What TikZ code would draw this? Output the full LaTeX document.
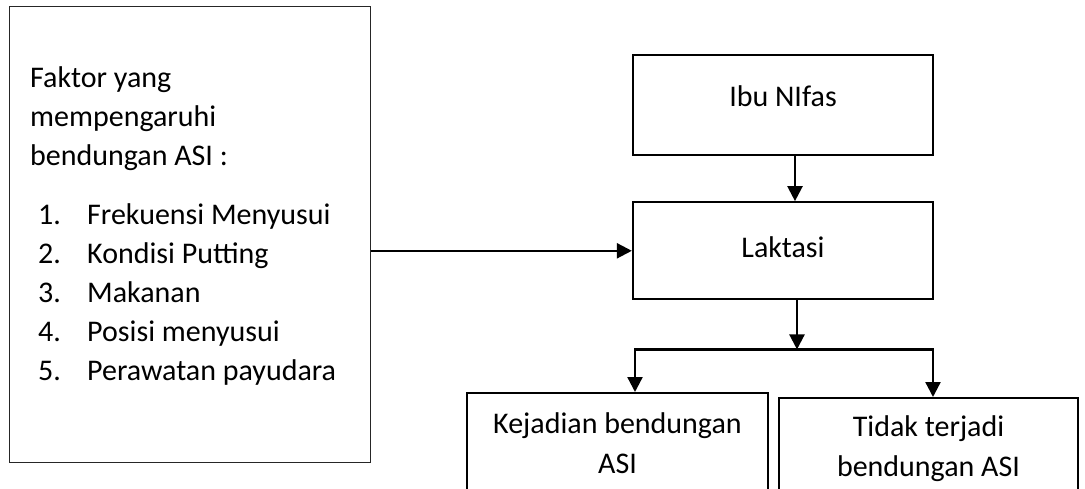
\documentclass[tikz,border=0pt]{standalone}
\usepackage{fontspec}
\setmainfont{Carlito}
\usepackage{tikz}
\usetikzlibrary{arrows.meta,positioning}
\tikzset{
  flowbox/.style={draw=black, line width=2.3pt, align=center, inner sep=0pt,
                  font=\fontsize{30}{40}\selectfont},
  factorbox/.style={draw=black!85, line width=1.2pt, inner sep=0pt},
  factortxt/.style={align=left, inner sep=0pt, font=\fontsize{30}{39}\selectfont},
  flowarr/.style={-{Triangle[length=15pt, width=15pt]}, line width=2.3pt, draw=black},
}

\begin{document}
\begin{tikzpicture}[x=1pt, y=-1pt]
  \useasboundingbox (0,0) rectangle (1085,488);
  % left box with the factors
  \node[factorbox, anchor=north west, minimum width=361pt, minimum height=456pt] (faktor) at (9,6) {};
  \node[factortxt, anchor=north west] (faktorlist) at (30,66) {Faktor yang\\
    mempengaruhi\\
    bendungan ASI :\\[20pt]
    \hspace*{8pt}\makebox[49pt][l]{1.}Frekuensi Menyusui\\
    \hspace*{8pt}\makebox[49pt][l]{2.}Kondisi Putting\\
    \hspace*{8pt}\makebox[49pt][l]{3.}Makanan\\
    \hspace*{8pt}\makebox[49pt][l]{4.}Posisi menyusui\\
    \hspace*{8pt}\makebox[49pt][l]{5.}Perawatan payudara};
  % flow on the right
  \node[flowbox, minimum width=300pt, minimum height=100pt, text depth=18pt] (ibu) at (783,105) {Ibu NIfas};
  \node[flowbox, below=45pt of ibu, minimum width=300pt, minimum height=97pt, text depth=8pt] (lak) {Laktasi};
  \node[flowbox, anchor=north, minimum width=301pt, minimum height=100pt] (kej) at (617.5,392) {Kejadian bendungan\\ASI};
  \node[flowbox, anchor=north, minimum width=299pt, minimum height=101pt] (tidak) at (928.5,397) {Tidak terjadi\\bendungan ASI};
  \coordinate (split) at ([xshift=14pt, yshift=-49pt]lak.south);
  \draw[flowarr] ([xshift=12pt]ibu.south) -- ([xshift=12pt]lak.north);
  \draw[flowarr] (faktor.east |- lak.west) -- (lak.west);
  \draw[flowarr] ([xshift=14pt]lak.south) -- (split);
  \draw[flowarr] (split) -| ([xshift=17.5pt]kej.north);
  \draw[flowarr] (split) -| ([xshift=4.5pt]tidak.north);
\end{tikzpicture}
\end{document}
